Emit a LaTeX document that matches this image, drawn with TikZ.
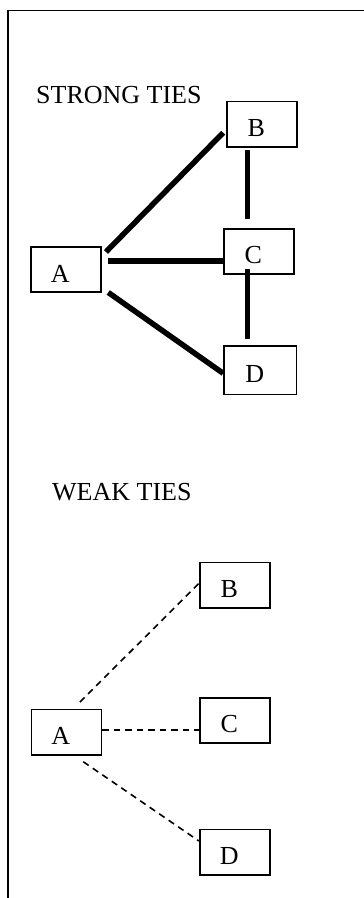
\documentclass[tikz,border=0pt]{standalone}
\usepackage{fontspec}
\setmainfont{Liberation Serif}
\usetikzlibrary{calc}
\tikzset{
  box/.style={draw, line width=1.6pt, rectangle, minimum width=70pt, minimum height=45.5pt, inner sep=0pt},
  lab/.style={font=\fontsize{26}{30}\selectfont, inner sep=0pt, xshift=-5.5pt, yshift=-4pt},
  title/.style={font=\fontsize{26}{30}\selectfont, inner sep=0pt, anchor=base west},
  strongtie/.style={line width=5.5pt},
  weaktie/.style={line width=1.6pt, dash pattern=on 6.5pt off 5pt},
  frame/.style={line width=1.8pt}
}
\begin{document}
\begin{tikzpicture}[x=1pt,y=1pt]
\useasboundingbox (0,0) rectangle (364,-898);
\draw[frame] (8,-900) -- (8,-10.5) -- (370,-10.5);

% strong ties
\node[title] (st) at (36,-103.5) {STRONG TIES};
\node[box, label={[lab]center:A}] (sA) at (65.85,-269.5) {};
\node[box, label={[lab]center:B}] (sB) at (261.7,-124.2) {};
\node[box, label={[lab]center:C}] (sC) at (258.7,-251.5) {};
\node[box, minimum width=72.7pt, minimum height=48.3pt, label={[lab]center:D}] (sD) at (260.3,-370.2) {};

\draw[strongtie] ($(sA.north east)+(4.3,-6)$) -- ($(sB.west)+(-2.7,-8.5)$);
\draw[strongtie] ($(sA.east)+(6.6,8.5)$) -- ($(sC.west)+(0,-9.5)$);
\draw[strongtie] ($(sA.south east)+(6.6,0.6)$) -- ($(sD.west)+(0,-3.1)$);
\draw[strongtie] ($(sB.south)+(-14.4,-2.3)$) -- ($(sC.north)+(-11.4,9)$);
\draw[strongtie] ($(sC.south)+(-11.4,5.7)$) -- ($(sD.north)+(-13,6)$);

% weak ties
\node[title] (wt) at (52,-500.7) {WEAK TIES};
\node[box, label={[lab]center:A}] (wA) at (66.3,-732.2) {};
\node[box, label={[lab]center:B}] (wB) at (234.7,-585.3) {};
\node[box, label={[lab]center:C}] (wC) at (234.7,-720.5) {};
\node[box, label={[lab]center:D}] (wD) at (234.7,-852.2) {};

\draw[weaktie] ($(wA.north)+(13.7,6.6)$) -- ($(wB.west)+(0,2)$);
\draw[weaktie] ($(wA.east)+(0,2.2)$) -- ($(wC.west)+(0,-9.5)$);
\draw[weaktie] ($(wA.south)+(17,-6)$) -- ($(wD.west)+(0,11.2)$);
\end{tikzpicture}
\end{document}
